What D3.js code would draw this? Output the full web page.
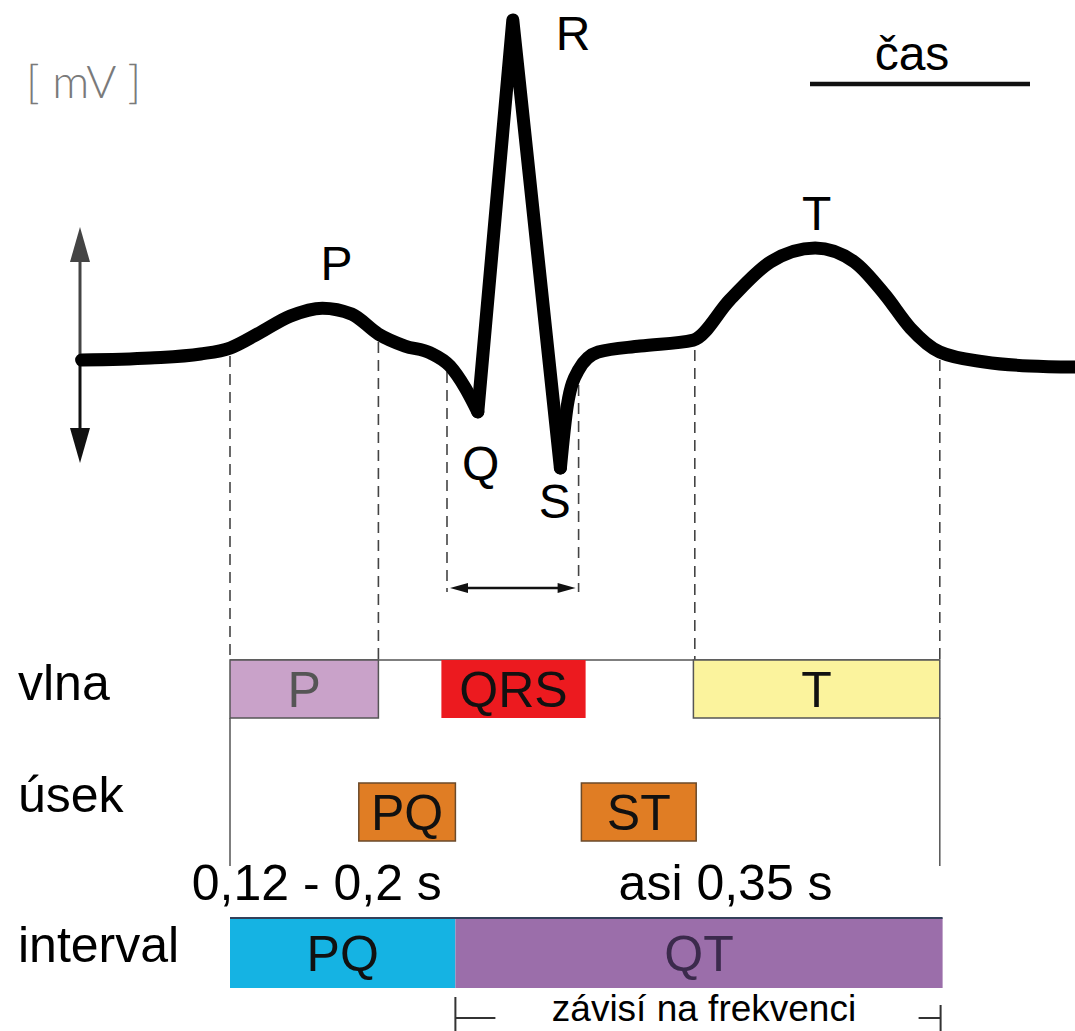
<!DOCTYPE html>
<html>
<head>
<meta charset="utf-8">
<title>EKG</title>
<script src="https://cdn.jsdelivr.net/npm/d3@7"></script>
<style>
  body { margin: 0; background: #fff; }
  svg { display: block; font-family: "Liberation Sans", Arial, sans-serif; }
</style>
</head>
<body>
<svg id="svgEkg" width="1075" height="1031"></svg>
<script>
// ECG trace: time in s (0 = start of P wave), voltage in mV
const ecgTime = [-0.106, -0.057, -0.021, 0, 0.021, 0.043, 0.066, 0.087, 0.106, 0.125, 0.143, 0.157, 0.168, 0.177,
  0.202,
  0.236, 0.241, 0.249, 0.263, 0.293, 0.331, 0.357, 0.386, 0.418, 0.446, 0.468, 0.486, 0.507, 0.539, 0.571, 0.604];
const ecgMv = [0, 0.007, 0.021, 0.042, 0.095, 0.154, 0.182, 0.161, 0.091, 0.049, 0.025, -0.021, -0.098, -0.182,
  1.193,
  -0.379, -0.158, -0.035, 0.028, 0.049, 0.07, 0.211, 0.344, 0.393, 0.344, 0.228, 0.112, 0.028, -0.007, -0.021, -0.025];
const qIndex = 13, sIndex = 15;

// letters on the trace
const peakNames = ["P", "Q", "R", "S", "T"];
const peakTime = [0.076, 0.179, 0.245, 0.232, 0.419];
const peakMv = [0.281, -0.421, 1.088, -0.554, 0.456];

// dashed guides (time, top in mV, reaches the QRS arrow only?)
const guideTime = [0, 0.106, 0.155, 0.249, 0.332, 0.507];
const guideMv = [0.014, 0.063, -0.042, -0.088, 0.035, 0];
const guideShort = [false, false, true, true, false, false];

// vlna
const waveNames = ["P", "QRS", "T"];
const waveStart = [0, 0.151, 0.331];
const waveEnd = [0.106, 0.254, 0.507];
const waveColors = ["#c9a2c9", "#ec1a1f", "#fbf39d"];
const waveTextColors = ["#555", "#111", "#111"];

// úsek
const segmentNames = ["PQ", "ST"];
const segmentStart = [0.092, 0.251];
const segmentEnd = [0.161, 0.333];

// interval
const intervalNames = ["PQ", "QT"];
const intervalStart = [0, 0.161];
const intervalEnd = [0.161, 0.509];
const intervalColors = ["#15b3e3", "#9b6eaa"];
const intervalTextColors = ["#111", "#3b2a4c"];
const intervalTexts = ["0,12 - 0,2 s", "asi 0,35 s"];
const intervalTextTime = [0.062, 0.354];

const rowLabels = ["vlna", "úsek", "interval"];

// #region chart
var vis = d3.select("#svgEkg");

var xRange = d3.scaleLinear().domain([0, 0.6]).range([230, 1070]);
var yRange = d3.scaleLinear().domain([0, 1.2]).range([360, 18]);

// rows of boxes (top, height)
var ROWS = [{ top: 660, h: 58 }, { top: 783, h: 58 }, { top: 918, h: 70 }];

vis.append("rect").attr("width", 1075).attr("height", 1031).attr("fill", "#fff");

// [mV]
vis.append("text")
  .attr("x", 26).attr("y", 98)
  .style("font-family", "Lato, 'Liberation Sans', sans-serif")
  .style("font-weight", 300)
  .style("font-size", "46px")
  .attr("fill", "#7a7a7a")
  .text("[ mV ]");

// vertical double arrow
vis.append("line").attr("x1", 80).attr("x2", 80).attr("y1", 255).attr("y2", 360)
  .attr("stroke", "#444").attr("stroke-width", 3);
vis.append("line").attr("x1", 80).attr("x2", 80).attr("y1", 360).attr("y2", 432)
  .attr("stroke", "#111").attr("stroke-width", 3);
vis.append("path").attr("d", "M80,227 L70,262 L90,262 Z").attr("fill", "#444");
vis.append("path").attr("d", "M80,463 L70,428 L90,428 Z").attr("fill", "#111");

// čas scale bar
vis.append("text").attr("x", 912).attr("y", 70)
  .style("text-anchor", "middle").style("font-size", "48px").text("čas");
vis.append("line").attr("x1", 810).attr("x2", 1030).attr("y1", 84).attr("y2", 84)
  .attr("stroke", "#111").attr("stroke-width", 4.5);

// dashed guides
guideTime.forEach((t, i) => {
  vis.append("line")
    .attr("x1", xRange(t)).attr("x2", xRange(t))
    .attr("y1", yRange(guideMv[i]))
    .attr("y2", guideShort[i] ? 592 : ROWS[0].top)
    .attr("stroke", "#444").attr("stroke-width", 1.6)
    .attr("stroke-dasharray", "11,7");
});

// QRS duration arrow
var arrY = 588;
vis.append("line").attr("x1", xRange(guideTime[2]) + 14).attr("x2", xRange(guideTime[3]) - 14)
  .attr("y1", arrY).attr("y2", arrY).attr("stroke", "#111").attr("stroke-width", 2.5);
[[xRange(guideTime[2]) + 3, 1], [xRange(guideTime[3]) - 3, -1]].forEach(a => {
  vis.append("path")
    .attr("d", "M" + a[0] + "," + arrY + " L" + (a[0] + a[1] * 18) + "," + (arrY - 5) + " L" + (a[0] + a[1] * 18) + "," + (arrY + 5) + " Z")
    .attr("fill", "#111");
});

// ECG trace - smooth parts + sharp QRS
var smooth = d3.line().x(i => xRange(ecgTime[i])).y(i => yRange(ecgMv[i])).curve(d3.curveMonotoneX);
var sharp = d3.line().x(i => xRange(ecgTime[i])).y(i => yRange(ecgMv[i])).curve(d3.curveLinear);
var idx = d3.range(ecgTime.length);
[[smooth, idx.slice(0, qIndex + 1)], [sharp, idx.slice(qIndex, sIndex + 1)], [smooth, idx.slice(sIndex)]].forEach(p => {
  vis.append("path")
    .attr("d", p[0](p[1]))
    .attr("fill", "none")
    .attr("stroke", "#000")
    .attr("stroke-width", 13)
    .attr("stroke-linejoin", "round")
    .attr("stroke-linecap", "round");
});

// letters on trace
peakNames.forEach((n, i) => {
  vis.append("text")
    .attr("x", xRange(peakTime[i])).attr("y", yRange(peakMv[i]))
    .style("text-anchor", "middle").style("font-size", "48px")
    .text(n);
});

// thin lines tying the rows together
vis.append("line").attr("x1", xRange(waveStart[0])).attr("x2", xRange(waveEnd[2]))
  .attr("y1", ROWS[0].top).attr("y2", ROWS[0].top).attr("stroke", "#555").attr("stroke-width", 1.5);
[xRange(waveStart[0]), xRange(waveEnd[2])].forEach(x => {
  vis.append("line").attr("x1", x).attr("x2", x)
    .attr("y1", ROWS[0].top + ROWS[0].h).attr("y2", 866)
    .attr("stroke", "#555").attr("stroke-width", 1.5);
});

// row labels
rowLabels.forEach((l, i) => {
  vis.append("text").attr("x", 18).attr("y", [700, 812, 962][i])
    .style("font-size", "50px").text(l);
});

function DrawBoxes(names, starts, ends, row, fills, textFills, strokes) {
  names.forEach((n, i) => {
    var x0 = xRange(starts[i]), x1 = xRange(ends[i]);
    vis.append("rect")
      .attr("x", x0).attr("y", row.top)
      .attr("width", x1 - x0).attr("height", row.h)
      .attr("fill", fills[i])
      .attr("stroke", strokes[i])
      .attr("stroke-width", 1.5);
    vis.append("text")
      .attr("x", (x0 + x1) / 2).attr("y", row.top + row.h / 2 + 18)
      .style("text-anchor", "middle").style("font-size", "50px")
      .attr("fill", textFills[i])
      .text(n);
  });
}

DrawBoxes(waveNames, waveStart, waveEnd, ROWS[0], waveColors, waveTextColors, ["#555", "none", "#555"]);
DrawBoxes(segmentNames, segmentStart, segmentEnd, ROWS[1], ["#e07d24", "#e07d24"], ["#111", "#111"], ["#6b4a2a", "#6b4a2a"]);
DrawBoxes(intervalNames, intervalStart, intervalEnd, ROWS[2], intervalColors, intervalTextColors, ["none", "none"]);

// top edge of interval bar
vis.append("line").attr("x1", xRange(intervalStart[0])).attr("x2", xRange(intervalEnd[1]))
  .attr("y1", ROWS[2].top).attr("y2", ROWS[2].top).attr("stroke", "#33405a").attr("stroke-width", 2);

// interval durations
intervalTexts.forEach((t, i) => {
  vis.append("text").attr("x", xRange(intervalTextTime[i])).attr("y", 900)
    .style("text-anchor", "middle").style("font-size", "50px").text(t);
});

// bracket: depends on heart rate
var bx0 = xRange(intervalStart[1]), bx1 = xRange(intervalEnd[1]) - 2;
vis.append("path")
  .attr("d", "M" + bx0 + ",997 V1031 M" + bx0 + ",1018 H" + (bx0 + 40) +
    " M" + (bx1 - 22) + ",1018 H" + bx1 + " M" + bx1 + ",1005 V1031")
  .attr("fill", "none").attr("stroke", "#333").attr("stroke-width", 2);
vis.append("text").attr("x", (bx0 + bx1) / 2 + 6).attr("y", 1021)
  .style("text-anchor", "middle").style("font-size", "37px").text("závisí na frekvenci");
// #endregion
</script>
</body>
</html>
